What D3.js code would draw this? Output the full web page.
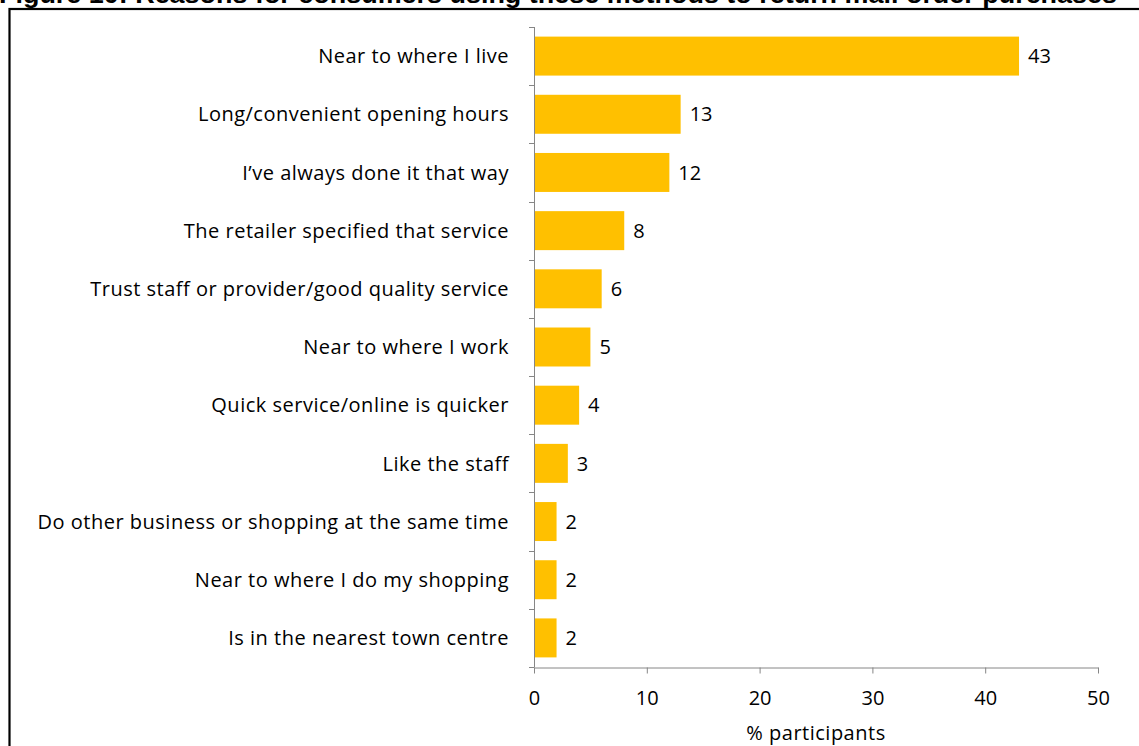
<!DOCTYPE html>
<html>
<head>
<meta charset="utf-8">
<script src="https://cdn.jsdelivr.net/npm/d3@7"></script>
<style>
  html, body { margin: 0; padding: 0; background: #fff; }
  svg { display: block; }
</style>
</head>
<body>
<svg id="chart" width="1139" height="746"></svg>
<script>
// Survey reasons, top to bottom, with share of participants (%)
const categories = [
  "Near to where I live",
  "Long/convenient opening hours",
  "I\u2019ve always done it that way",
  "The retailer specified that service",
  "Trust staff or provider/good quality service",
  "Near to where I work",
  "Quick service/online is quicker",
  "Like the staff",
  "Do other business or shopping at the same time",
  "Near to where I do my shopping",
  "Is in the nearest town centre"
];
const values = [43, 13, 12, 8, 6, 5, 4, 3, 2, 2, 2];
const xTicks = [0, 10, 20, 30, 40, 50];
const titleText = "Figure 10: Reasons for consumers using these methods to return mail order purchases";
const xAxisTitle = "% participants";

const svg = d3.select("#chart");
const labelFont = "'Open Sans', 'Noto Sans', sans-serif";
const labelSize = 20;
const labelSpacing = 0.5;

// Heading (runs off the top edge of the page)
svg.append("text")
  .attr("x", -1).attr("y", 3)
  .attr("font-family", "'Liberation Sans', Arial, sans-serif")
  .attr("font-weight", "bold")
  .attr("font-size", 25)
  .attr("textLength", 1118)
  .attr("lengthAdjust", "spacingAndGlyphs")
  .attr("fill", "#000")
  .text(titleText);

// Frame around the figure
svg.append("rect")
  .attr("x", 9.5).attr("y", 9)
  .attr("width", 1200).attr("height", 800)
  .attr("fill", "none")
  .attr("stroke", "#000")
  .attr("stroke-width", 2.2);

const plot = { left: 534, right: 1098, top: 27, bottom: 667 };

const x = d3.scaleLinear().domain([0, 50]).range([plot.left, plot.right]);
const y = d3.scaleBand().domain(categories).range([plot.top, plot.bottom]).paddingInner(0.33).paddingOuter(0.165);
const yTicks = d3.scaleBand().domain(categories).range([plot.top, plot.bottom]);

const axisColor = "#868686";

// Bars
svg.append("g").selectAll("rect")
  .data(categories)
  .join("rect")
  .attr("x", x(0))
  .attr("y", d => y(d))
  .attr("width", (d, i) => x(values[i]) - x(0))
  .attr("height", y.bandwidth())
  .attr("fill", "#FFC000");

// Value labels
svg.append("g").selectAll("text")
  .data(categories)
  .join("text")
  .attr("x", (d, i) => x(values[i]) + 9)
  .attr("y", d => y(d) + y.bandwidth() / 2)
  .attr("dy", "0.36em")
  .attr("font-family", labelFont)
  .attr("font-size", labelSize)
  .attr("fill", "#000")
  .text((d, i) => values[i]);

// Category axis: vertical line with ticks at band boundaries
const yAxis = svg.append("g");
yAxis.append("line")
  .attr("x1", plot.left + 0.5).attr("x2", plot.left + 0.5)
  .attr("y1", plot.top).attr("y2", plot.bottom)
  .attr("stroke", axisColor);
yAxis.selectAll("line.tick")
  .data(categories.map(c => yTicks(c)).concat([plot.bottom]))
  .join("line")
  .attr("class", "tick")
  .attr("x1", plot.left - 5).attr("x2", plot.left + 0.5)
  .attr("y1", d => Math.round(d) + 0.5).attr("y2", d => Math.round(d) + 0.5)
  .attr("stroke", axisColor);
yAxis.selectAll("text")
  .data(categories)
  .join("text")
  .attr("x", plot.left - 25)
  .attr("y", d => yTicks(d) + yTicks.bandwidth() / 2)
  .attr("dy", "0.36em")
  .attr("text-anchor", "end")
  .attr("font-family", labelFont)
  .attr("font-size", labelSize)
  .attr("letter-spacing", labelSpacing)
  .attr("fill", "#000")
  .text(d => d);

// Value axis
const xAxis = svg.append("g")
  .attr("transform", `translate(0,${plot.bottom + 0.5})`)
  .call(d3.axisBottom(x).tickValues(xTicks).tickSize(6).tickSizeOuter(0).tickPadding(17));
xAxis.select(".domain").attr("stroke", axisColor);
xAxis.selectAll(".tick line").attr("stroke", axisColor);
xAxis.selectAll(".tick text")
  .attr("font-family", labelFont)
  .attr("font-size", labelSize)
  .attr("fill", "#000");

svg.append("text")
  .attr("x", (plot.left + plot.right) / 2)
  .attr("y", 740)
  .attr("text-anchor", "middle")
  .attr("font-family", labelFont)
  .attr("font-size", labelSize)
  .attr("letter-spacing", labelSpacing)
  .attr("fill", "#000")
  .text(xAxisTitle);
</script>
</body>
</html>
